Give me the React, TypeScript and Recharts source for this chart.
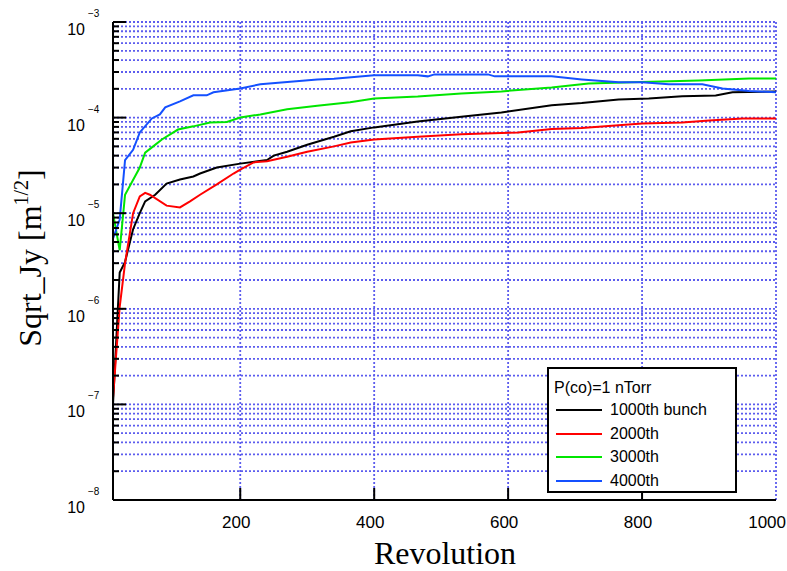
import React from 'react';
import { LineChart, Line, XAxis, YAxis, CartesianGrid, Legend, Label } from 'recharts';

// ---- data ----
const blackX = [10, 20, 28, 40, 50, 58, 73, 90, 110, 130, 140, 165, 200, 240, 250, 270, 300, 340, 365, 400, 465, 530, 590, 665, 710, 765, 810, 860, 910, 935, 1000];
const blackY = [1.0e-7, 2.4e-6, 3.1e-6, 6.8e-6, 1.0e-5, 1.33e-5, 1.56e-5, 2.04e-5, 2.25e-5, 2.42e-5, 2.6e-5, 3.0e-5, 3.3e-5, 3.6e-5, 4.0e-5, 4.4e-5, 5.2e-5, 6.3e-5, 7.2e-5, 7.9e-5, 9.1e-5, 1.02e-4, 1.13e-4, 1.35e-4, 1.42e-4, 1.55e-4, 1.58e-4, 1.67e-4, 1.7e-4, 1.84e-4, 1.88e-4];

const redX = [10, 20, 28, 40, 50, 58, 65, 90, 110, 125, 140, 165, 190, 200, 220, 240, 270, 300, 340, 365, 400, 465, 530, 565, 615, 665, 710, 765, 800, 860, 900, 950, 1000];
const redY = [1.17e-7, 1.05e-6, 3.0e-6, 1.0e-5, 1.5e-5, 1.63e-5, 1.56e-5, 1.2e-5, 1.15e-5, 1.33e-5, 1.56e-5, 2.0e-5, 2.6e-5, 2.86e-5, 3.4e-5, 3.5e-5, 3.9e-5, 4.4e-5, 5.0e-5, 5.5e-5, 5.9e-5, 6.3e-5, 6.7e-5, 6.8e-5, 7.0e-5, 7.6e-5, 7.8e-5, 8.3e-5, 8.7e-5, 8.9e-5, 9.3e-5, 9.8e-5, 9.8e-5];

const greenX = [10, 20, 28, 50, 58, 70, 83, 107, 130, 155, 180, 200, 230, 270, 315, 364, 400, 465, 530, 590, 665, 720, 785, 885, 960, 1000];
const greenY = [1.0e-5, 4.1e-6, 1.56e-5, 3.0e-5, 4.3e-5, 5.0e-5, 5.9e-5, 7.5e-5, 8.1e-5, 8.9e-5, 9.0e-5, 1.0e-4, 1.08e-4, 1.22e-4, 1.33e-4, 1.45e-4, 1.58e-4, 1.66e-4, 1.79e-4, 1.88e-4, 2.07e-4, 2.28e-4, 2.34e-4, 2.45e-4, 2.57e-4, 2.57e-4];

const blueX = [10, 20, 28, 40, 50, 68, 80, 88, 110, 130, 150, 160, 200, 230, 315, 340, 400, 465, 480, 490, 570, 580, 665, 710, 765, 800, 840, 890, 920, 960, 1000];
const blueY = [5.4e-6, 8.6e-6, 3.6e-5, 4.6e-5, 7.0e-5, 9.8e-5, 1.08e-4, 1.28e-4, 1.48e-4, 1.71e-4, 1.71e-4, 1.84e-4, 2.02e-4, 2.23e-4, 2.51e-4, 2.55e-4, 2.77e-4, 2.77e-4, 2.7e-4, 2.83e-4, 2.83e-4, 2.7e-4, 2.7e-4, 2.51e-4, 2.34e-4, 2.34e-4, 2.23e-4, 2.23e-4, 2.02e-4, 1.9e-4, 1.84e-4];

const seriesNames = ['1000th bunch', '2000th', '3000th', '4000th'];
const seriesColors = ['#000000', '#ff0000', '#00e600', '#1450ff'];
const legendTitle = 'P(co)=1 nTorr';

const xTicks = [200, 400, 600, 800, 1000];
const decades = [-8, -7, -6, -5, -4, -3];
const minorMultipliers = [2, 3, 4, 5, 6, 7, 8, 9];

const yTicks: number[] = [];
decades.forEach((d, i) => {
  yTicks.push(Math.pow(10, d));
  if (i < decades.length - 1) minorMultipliers.forEach((m) => yTicks.push(m * Math.pow(10, d)));
});

const zip = (xs: number[], ys: number[]) => xs.map((x, i) => ({ x, v: ys[i] }));
const seriesData = [zip(blackX, blackY), zip(redX, redY), zip(greenX, greenY), zip(blueX, blueY)];

const TICK_FONT = '"Liberation Sans", Arial, sans-serif';
const SERIF = '"Liberation Serif", "Times New Roman", serif';
const GRID = '#5c5cee';

const isMajor = (v: number) => {
  const l = Math.log10(v);
  return Math.abs(l - Math.round(l)) < 1e-6;
};

const LeftTick = (props: any) => {
  const { x, y, payload } = props;
  const v = payload.value;
  const major = isMajor(v);
  return (
    <g>
      <line x1={x} x2={x + (major ? 13 : 6)} y1={y} y2={y} stroke="#000" strokeWidth={2} />
      {major && (
        <g fontFamily={TICK_FONT} fill="#000">
          <text x={x - 28} y={y + 13} fontSize={16} textAnchor="end">10</text>
          <text x={x - 25} y={y - 5} fontSize={10} textAnchor="start">{'\u2212' + Math.abs(Math.round(Math.log10(v)))}</text>
        </g>
      )}
    </g>
  );
};

const RightTick = (props: any) => {
  const { x, y, payload } = props;
  const major = isMajor(payload.value);
  return <line x1={x} x2={x - (major ? 13 : 6)} y1={y} y2={y} stroke="#000" strokeWidth={2} />;
};

const BottomTick = (props: any) => {
  const { x, y, payload } = props;
  const last = payload.value >= 1000;
  return (
    <g>
      {!last && <line x1={x} x2={x} y1={y} y2={y - 12} stroke="#000" strokeWidth={2} />}
      <text
        x={last ? 786 : x - 4}
        y={y + 28}
        fontSize={17}
        fontFamily={TICK_FONT}
        textAnchor={last ? 'end' : 'middle'}
        fill="#000"
      >
        {payload.value}
      </text>
    </g>
  );
};

const TopTick = (props: any) => {
  const { x, y, payload } = props;
  if (payload.value >= 1000) return <g />;
  return <line x1={x} x2={x} y1={y} y2={y + 12} stroke="#000" strokeWidth={2} />;
};

const LegendBox = () => (
  <div
    style={{
      boxSizing: 'border-box',
      width: 190,
      height: 126,
      border: '2px solid #000',
      background: '#fff',
      position: 'relative',
      fontFamily: TICK_FONT,
      fontSize: 16,
      color: '#000',
    }}
  >
    <div style={{ position: 'absolute', left: 5, top: 9, whiteSpace: 'nowrap', lineHeight: '20px' }}>{legendTitle}</div>
    {seriesNames.map((n, i) => (
      <div key={n} style={{ position: 'absolute', left: 7, top: 31 + i * 23.7, height: 20, display: 'flex', alignItems: 'center', whiteSpace: 'nowrap' }}>
        <div style={{ width: 46, height: 2, background: seriesColors[i], marginRight: 8 }} />
        <span style={{ lineHeight: '20px' }}>{n}</span>
      </div>
    ))}
  </div>
);

export default function App() {
  return (
    <div style={{ position: 'absolute', left: 0, top: 0, background: '#fff' }}>
      <LineChart width={787} height={571} margin={{ top: 22, right: 11, bottom: 0, left: 0 }}>
        <CartesianGrid stroke={GRID} strokeDasharray="2 2" strokeWidth={1.8} />
        <XAxis
          xAxisId={0}
          dataKey="x"
          type="number"
          domain={[10, 1000]}
          ticks={xTicks}
          interval={0}
          allowDataOverflow
          height={71}
          tickSize={0}
          tickMargin={0}
          tickLine={false}
          axisLine={{ stroke: '#000', strokeWidth: 2 }}
          tick={BottomTick}
        >
          <Label
            content={() => (
              <text x={445} y={564} fontFamily={SERIF} fontSize={32} textAnchor="middle" fill="#000">
                Revolution
              </text>
            )}
          />
        </XAxis>
        <XAxis
          xAxisId="t"
          orientation="top"
          dataKey="x"
          type="number"
          domain={[10, 1000]}
          ticks={xTicks}
          interval={0}
          allowDataOverflow
          height={0}
          tickSize={0}
          tickMargin={0}
          tickLine={false}
          axisLine={{ stroke: '#000', strokeWidth: 2 }}
          tick={TopTick}
        />
        <YAxis
          yAxisId={0}
          type="number"
          scale="log"
          domain={[1e-8, 1e-3]}
          ticks={yTicks}
          interval={0}
          allowDataOverflow
          width={113}
          tickSize={0}
          tickMargin={0}
          tickLine={false}
          axisLine={{ stroke: '#000', strokeWidth: 2 }}
          tick={LeftTick}
        >
          <Label
            content={() => (
              <text
                x={41}
                y={258}
                transform="rotate(-90, 41, 258)"
                fontFamily={SERIF}
                fontSize={32}
                textAnchor="middle"
                fill="#000"
              >
                Sqrt_Jy [m
                <tspan fontSize={20} dy={-13}>1/2</tspan>
                <tspan fontSize={32} dy={13}>]</tspan>
              </text>
            )}
          />
        </YAxis>
        <YAxis
          yAxisId="r"
          orientation="right"
          type="number"
          scale="log"
          domain={[1e-8, 1e-3]}
          ticks={yTicks}
          interval={0}
          allowDataOverflow
          width={0}
          tickSize={0}
          tickMargin={0}
          tickLine={false}
          axisLine={{ stroke: '#000', strokeWidth: 2 }}
          tick={RightTick}
        />
        {seriesData.map((d, i) => (
          <Line
            key={seriesNames[i]}
            data={d}
            dataKey="v"
            name={seriesNames[i]}
            xAxisId={0}
            yAxisId={0}
            type="linear"
            stroke={seriesColors[i]}
            strokeWidth={2}
            dot={false}
            isAnimationActive={false}
          />
        ))}
        <Legend
          layout="horizontal"
          verticalAlign="middle"
          align="center"
          content={() => <LegendBox />}
          wrapperStyle={{ position: 'absolute', left: 547, top: 367, width: 190, height: 126, bottom: 'auto', right: 'auto' }}
        />
      </LineChart>
    </div>
  );
}
